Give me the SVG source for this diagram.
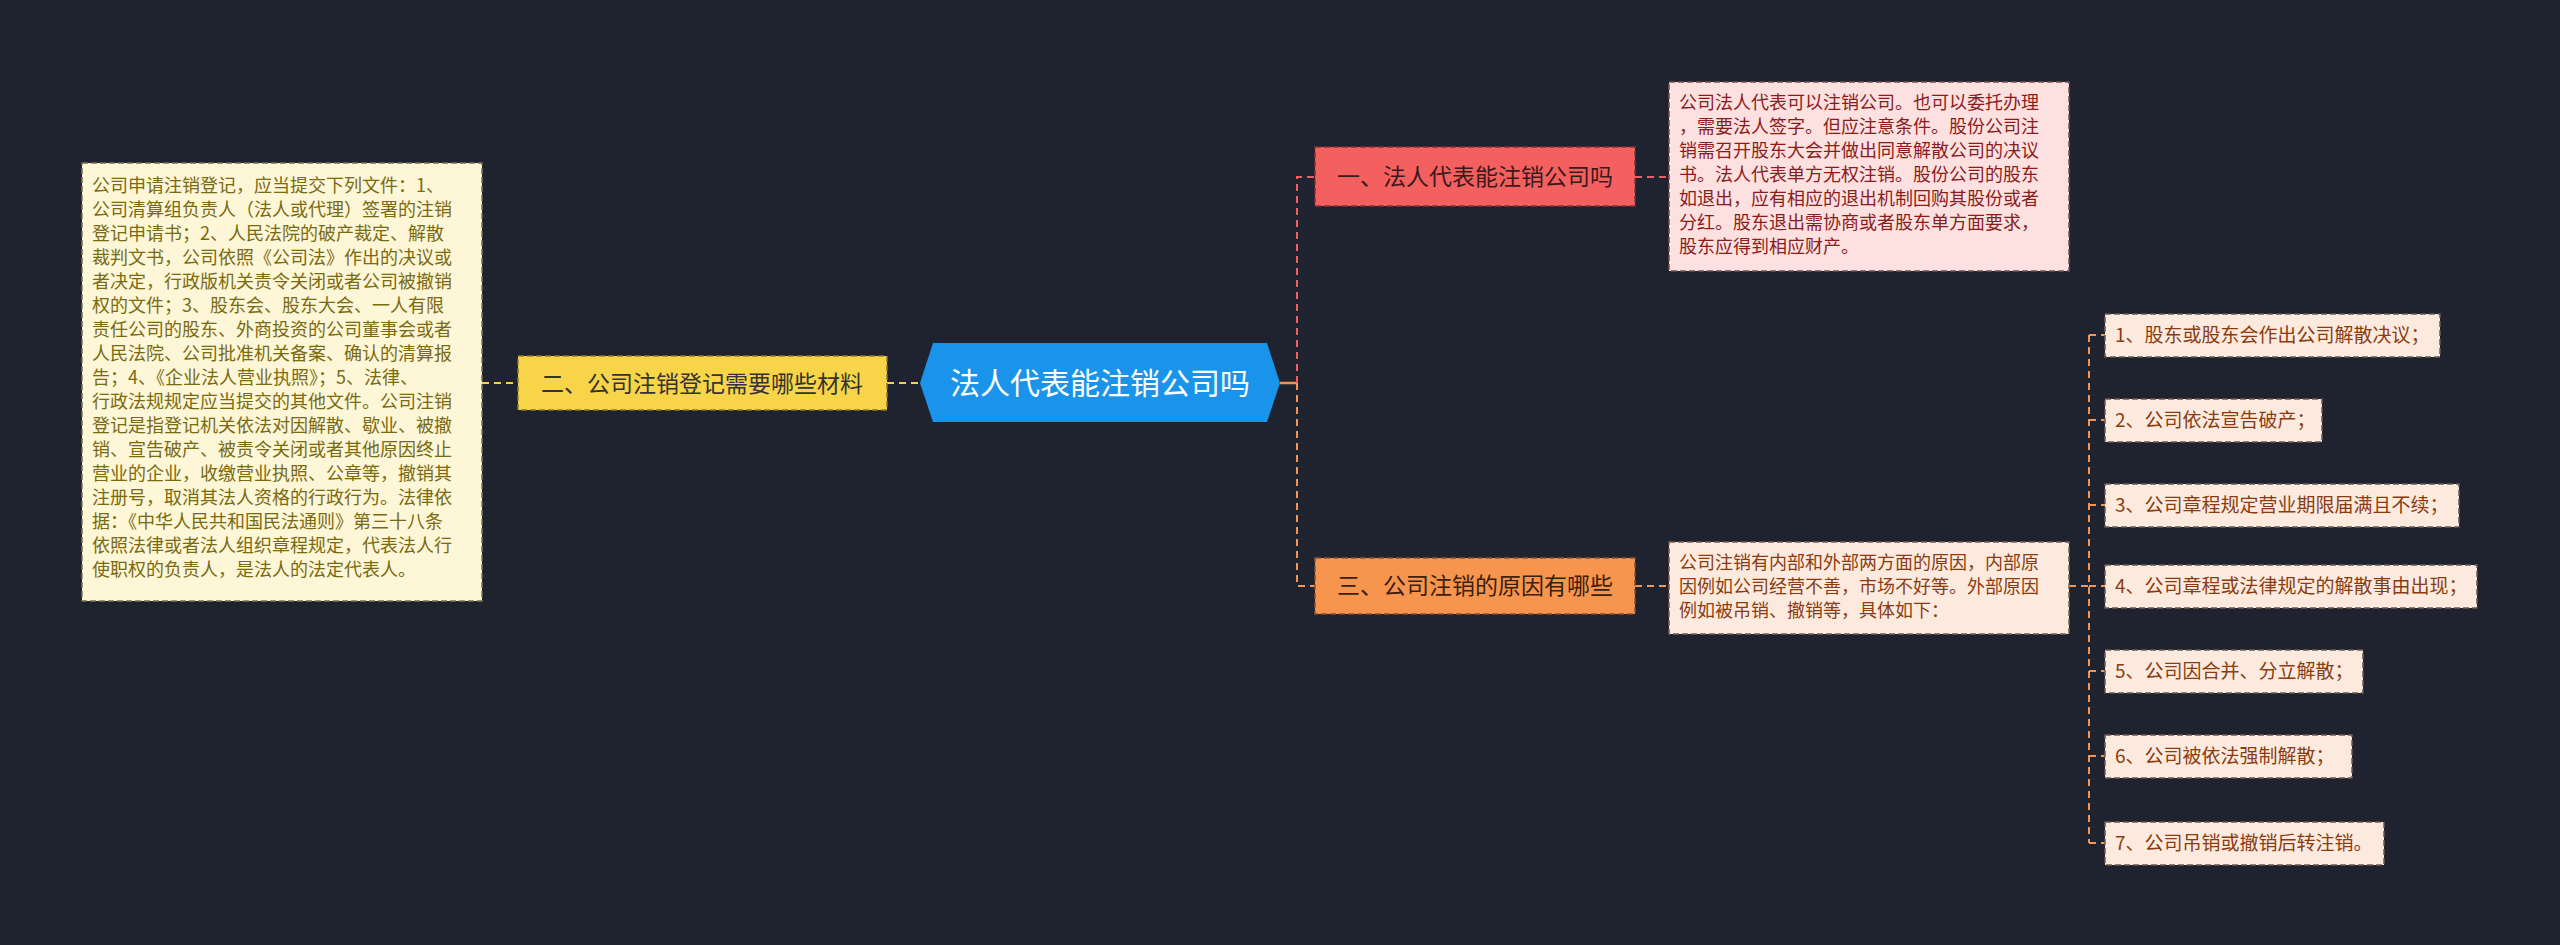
<svg xmlns="http://www.w3.org/2000/svg" width="2560" height="945" viewBox="0 0 2560 945">
<style>
text{font-family:"Noto Sans CJK SC","Liberation Sans",sans-serif}
.box{stroke-dasharray:6 3;stroke-width:1.5}
.c{fill:none;stroke-dasharray:7 5;stroke-width:2}
.t18{font-size:18px}
.it{fill:#fdeadf;stroke:#6b5a4f}
.itt{font-size:19px;fill:#8a3c10}
</style>
<rect width="2560" height="945" fill="#1f2330"/>
<g id="connectors">
<path class="c" stroke="#f4d44a" d="M887 383H919"/>
<path class="c" stroke="#f4d44a" d="M482 383H518"/>
<path d="M1280 383H1297" stroke="#f7954f" stroke-width="2.5"/>
<path class="c" stroke="#f25c5c" d="M1297 383V177H1315"/>
<path class="c" stroke="#f7954f" d="M1297 383V586H1315"/>
<path class="c" stroke="#f25c5c" d="M1635 177H1669"/>
<path class="c" stroke="#f7954f" d="M1635 586H1669"/>
<path class="c" stroke="#f7954f" d="M2069 586H2089"/>
<path class="c" stroke="#f7954f" d="M2089 335V843M2089 335H2105M2089 420H2105M2089 505H2105M2089 586H2105M2089 671H2105M2089 756H2105M2089 843H2105"/>
</g>
<g id="center">
<polygon points="933,343 1267,343 1280,383 1267,422 933,422 920,383" fill="#1a94ea"/>
<text x="1100" y="394" font-size="30" fill="#fff" text-anchor="middle">法人代表能注销公司吗</text>
</g>
<g id="n2">
<rect x="518" y="356" width="369" height="54" fill="#f8d548" stroke="#8a7a2a" class="box"/>
<text x="702" y="392" font-size="23" fill="#333" text-anchor="middle">二、公司注销登记需要哪些材料</text>
</g>
<g id="n2text">
<rect x="82" y="163" width="400" height="438" fill="#fdf6d7" stroke="#7a7050" class="box"/>
<text class="t18" fill="#7a6a10">
<tspan x="92" y="192">公司申请注销登记，应当提交下列文件：1、</tspan>
<tspan x="92" y="216">公司清算组负责人（法人或代理）签署的注销</tspan>
<tspan x="92" y="240">登记申请书；2、人民法院的破产裁定、解散</tspan>
<tspan x="92" y="264">裁判文书，公司依照《公司法》作出的决议或</tspan>
<tspan x="92" y="288">者决定，行政版机关责令关闭或者公司被撤销</tspan>
<tspan x="92" y="312">权的文件；3、股东会、股东大会、一人有限</tspan>
<tspan x="92" y="336">责任公司的股东、外商投资的公司董事会或者</tspan>
<tspan x="92" y="360">人民法院、公司批准机关备案、确认的清算报</tspan>
<tspan x="92" y="384">告；4、《企业法人营业执照》；5、法律、</tspan>
<tspan x="92" y="408">行政法规规定应当提交的其他文件。公司注销</tspan>
<tspan x="92" y="432">登记是指登记机关依法对因解散、歇业、被撤</tspan>
<tspan x="92" y="456">销、宣告破产、被责令关闭或者其他原因终止</tspan>
<tspan x="92" y="480">营业的企业，收缴营业执照、公章等，撤销其</tspan>
<tspan x="92" y="504">注册号，取消其法人资格的行政行为。法律依</tspan>
<tspan x="92" y="528">据：《中华人民共和国民法通则》第三十八条</tspan>
<tspan x="92" y="552">依照法律或者法人组织章程规定，代表法人行</tspan>
<tspan x="92" y="576">使职权的负责人，是法人的法定代表人。</tspan>
</text>
</g>
<g id="n1">
<rect x="1315" y="147" width="320" height="59" fill="#f45f5f" stroke="#8a3030" class="box"/>
<text x="1475" y="185" font-size="23" fill="#3a1a1a" text-anchor="middle">一、法人代表能注销公司吗</text>
</g>
<g id="n1text">
<rect x="1669" y="82" width="400" height="189" fill="#fde0e0" stroke="#7a5050" class="box"/>
<text class="t18" fill="#8a1c1c">
<tspan x="1679" y="109">公司法人代表可以注销公司。也可以委托办理</tspan>
<tspan x="1679" y="133">，需要法人签字。但应注意条件。股份公司注</tspan>
<tspan x="1679" y="157">销需召开股东大会并做出同意解散公司的决议</tspan>
<tspan x="1679" y="181">书。法人代表单方无权注销。股份公司的股东</tspan>
<tspan x="1679" y="205">如退出，应有相应的退出机制回购其股份或者</tspan>
<tspan x="1679" y="229">分红。股东退出需协商或者股东单方面要求，</tspan>
<tspan x="1679" y="253">股东应得到相应财产。</tspan>
</text>
</g>
<g id="n3">
<rect x="1315" y="558" width="320" height="56" fill="#f7954f" stroke="#8a5030" class="box"/>
<text x="1475" y="594" font-size="23" fill="#3a2010" text-anchor="middle">三、公司注销的原因有哪些</text>
</g>
<g id="n3text">
<rect x="1669" y="542" width="400" height="92" fill="#fdeadf" stroke="#7a6050" class="box"/>
<text class="t18" fill="#8a3c10">
<tspan x="1679" y="569">公司注销有内部和外部两方面的原因，内部原</tspan>
<tspan x="1679" y="593">因例如公司经营不善，市场不好等。外部原因</tspan>
<tspan x="1679" y="617">例如被吊销、撤销等，具体如下：</tspan>
</text>
</g>
<g id="i1"><rect class="box it" x="2105" y="314" width="335" height="43"/><text class="itt" x="2115" y="342">1、股东或股东会作出公司解散决议；</text></g>
<g id="i2"><rect class="box it" x="2105" y="399" width="217" height="43"/><text class="itt" x="2115" y="427">2、公司依法宣告破产；</text></g>
<g id="i3"><rect class="box it" x="2105" y="484" width="354" height="43"/><text class="itt" x="2115" y="512">3、公司章程规定营业期限届满且不续；</text></g>
<g id="i4"><rect class="box it" x="2105" y="565" width="372" height="43"/><text class="itt" x="2115" y="593">4、公司章程或法律规定的解散事由出现；</text></g>
<g id="i5"><rect class="box it" x="2105" y="650" width="258" height="43"/><text class="itt" x="2115" y="678">5、公司因合并、分立解散；</text></g>
<g id="i6"><rect class="box it" x="2105" y="735" width="247" height="43"/><text class="itt" x="2115" y="763">6、公司被依法强制解散；</text></g>
<g id="i7"><rect class="box it" x="2105" y="822" width="279" height="43"/><text class="itt" x="2115" y="850">7、公司吊销或撤销后转注销。</text></g>
</svg>
